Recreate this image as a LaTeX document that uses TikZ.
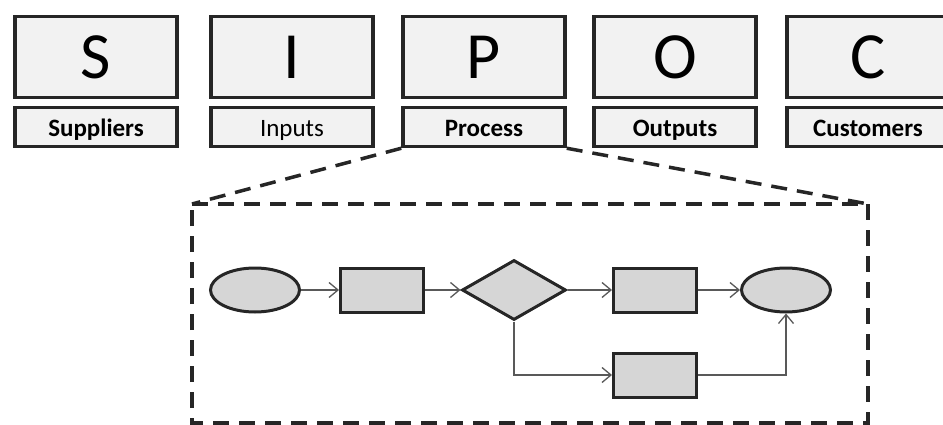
\documentclass[tikz,border=0pt]{standalone}
\usepackage{fontspec}
\setmainfont{Carlito}
\usetikzlibrary{arrows.meta,shapes.geometric,positioning}
\definecolor{edgegray}{HTML}{262626}
\definecolor{boxfill}{HTML}{F2F2F2}
\definecolor{shapefill}{HTML}{D6D6D6}
\definecolor{linegray}{HTML}{595959}
\tikzset{
  letterbox/.style={draw=edgegray,line width=3.5pt,fill=boxfill,minimum width=162pt,minimum height=81pt,inner sep=0pt,text height=44pt,text depth=0pt,font=\fontsize{66}{66}\selectfont},
  namebox/.style={draw=edgegray,line width=3.5pt,fill=boxfill,minimum width=162pt,minimum height=39pt,inner sep=0pt,text height=20pt,text depth=0pt,font=\fontsize{25}{25}\selectfont},
  zoomline/.style={draw=edgegray,line width=3.5pt,dash pattern=on 16pt off 10pt},
  flowrect/.style={draw=edgegray,line width=3pt,fill=shapefill,minimum width=83pt,minimum height=44pt,inner sep=0pt},
  flowoval/.style={ellipse,draw=edgegray,line width=3pt,fill=shapefill,minimum width=89pt,minimum height=44pt,inner sep=0pt},
  flowdiam/.style={diamond,draw=edgegray,line width=3pt,fill=shapefill,minimum width=104pt,minimum height=60pt,inner sep=0pt},
  flowarrow/.style={draw=linegray,line width=1.3pt,-{Straight Barb[length=9pt,width=15pt,line width=1.3pt]}}
}
\begin{document}
\begin{tikzpicture}[x=1pt,y=-1pt]
\useasboundingbox (0,0) rectangle (943,425);
%SIPOC letters
\node[letterbox] (S) at (96,57) {S};
\node[letterbox] (I) at (292,57) {I};
\node[letterbox] (P) at (484,57) {P};
\node[letterbox] (O) at (675,57) {O};
\node[letterbox] (C) at (868,57) {C};
%names under the letters
\node[namebox] (sup) at (96,127) {\bfseries Suppliers};
\node[namebox] (inp) at (292,127) {Inputs};
\node[namebox] (pro) at (484,127) {\bfseries Process};
\node[namebox] (out) at (675,127) {\bfseries Outputs};
\node[namebox] (cus) at (868,127) {\bfseries Customers};
%zoom into the process
\coordinate (zl) at (192,204); \coordinate (zr) at (868,204);
\coordinate (bl) at (192,423); \coordinate (br) at (868,423);
\draw[zoomline] (pro.south west) -- (zl);
\draw[zoomline] (pro.south east) -- (zr);
\draw[zoomline] (zl) -- (zr) -- (br) -- (bl) -- cycle;
%flow chart
\node[flowoval] (start) at (255,290) {};
\node[flowrect] (step1) at (382,290) {};
\node[flowdiam] (check) at (514,290) {};
\node[flowrect] (yes) at (655,290) {};
\node[flowrect] (no) at (655,375) {};
\node[flowoval] (stop) at (786,290) {};
\draw[flowarrow] (start) -- (step1);
\draw[flowarrow] (step1) -- (check);
\draw[flowarrow] (check) -- (yes);
\draw[flowarrow] (yes) -- (stop);
\draw[flowarrow] (check.south) |- (no.west);
\draw[flowarrow] (no.east) -| (stop.south);
\end{tikzpicture}
\end{document}
